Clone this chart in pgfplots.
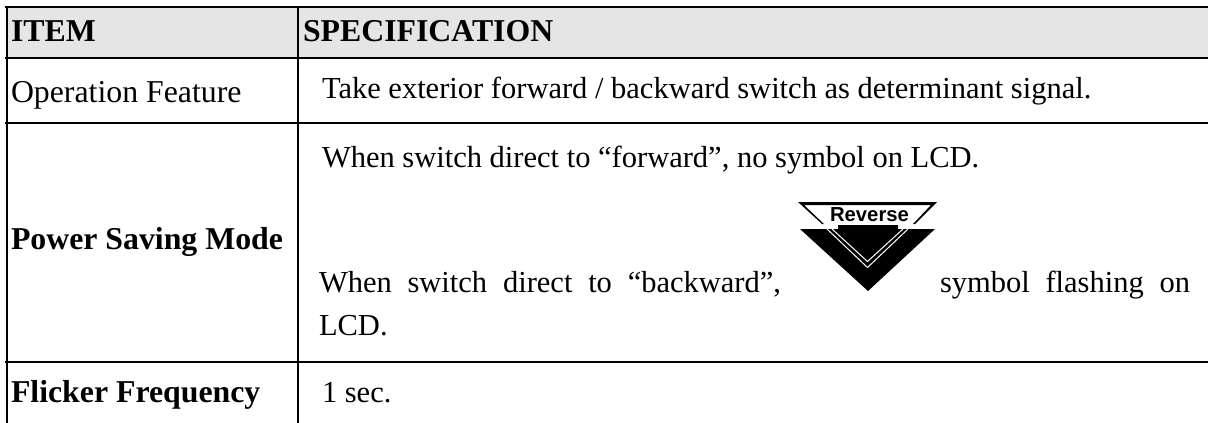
\documentclass[border=0pt]{standalone}
\usepackage{fontspec}
\setmainfont{Liberation Serif}
\newfontfamily\sansb{Liberation Sans}[Scale=1]
\usepackage{pgfplots}
\pgfplotsset{compat=1.18}
\newcommand{\tx}{\fontsize{30.5}{33}\selectfont}
\newcommand{\ty}{\fontsize{31.8}{34}\selectfont}
\tikzset{T/.style={inner sep=0pt, outer sep=0pt, anchor=base west}}
\begin{document}
\begin{tikzpicture}
\begin{axis}[
  scale only axis, width=1208pt, height=423pt,
  xmin=0, xmax=1208, ymin=0, ymax=423, y dir=reverse,
  hide axis, clip=true,
]
% header band
\addplot[fill=black!10, draw=none] coordinates {(7,7) (1208,7) (1208,58) (7,58)} --cycle;
% horizontal rules
\addplot[black, line width=2.2pt] coordinates {(5,7) (1208,7)};
\addplot[black, line width=2.2pt] coordinates {(5,58) (1208,58)};
\addplot[black, line width=2.2pt] coordinates {(5,123) (1208,123)};
\addplot[black, line width=2.2pt] coordinates {(5,362) (1208,362)};
% vertical rules
\addplot[black, line width=2.2pt] coordinates {(7,6) (7,423)};
\addplot[black, line width=2.2pt] coordinates {(298,6) (298,423)};
% Reverse icon: frame
\addplot[fill=black, draw=none] coordinates {(798,202) (937,202) (915,224) (913,224) (931,205) (804,205) (824,224) (822,224)} --cycle;
% Reverse icon: triangle and block
\addplot[fill=black, draw=none] coordinates {(800,229) (838,229) (838,225) (898,225) (898,229) (935,229) (868,291)} --cycle;
% white chevrons
\addplot[white, line width=1pt] coordinates {(827,229) (867.5,267.5) (908,229)};
\addplot[white, line width=1pt] coordinates {(832,229) (867.5,261.5) (903,229)};
% text
\node[T] at (axis cs:11,41) {\ty\bfseries ITEM};
\node[T] at (axis cs:303,41) {\ty\bfseries SPECIFICATION};
\node[T] at (axis cs:11,102) {\ty Operation Feature};
\node[T] at (axis cs:322,98) {\tx Take exterior forward / backward switch as determinant signal.};
\node[T] at (axis cs:322,167) {\tx When switch direct to ``forward'', no symbol on LCD.};
\node[T] at (axis cs:11,249) {\ty\bfseries Power Saving Mode};
\node[T] at (axis cs:319,292) {\tx\makebox[462pt][s]{When switch direct to ``backward'',}};
\node[T] at (axis cs:940,292) {\tx\makebox[250pt][s]{symbol flashing on}};
\node[T] at (axis cs:319,335) {\tx LCD.};
\node[T] at (axis cs:11,402) {\ty\bfseries Flicker Frequency};
\node[T] at (axis cs:322,402) {\tx 1 sec.};
\node[T] at (axis cs:830,221) {\sansb\bfseries\fontsize{20.3}{21}\selectfont Reverse};
\path (rel axis cs:0,0) (rel axis cs:1,1);
\end{axis}
\end{tikzpicture}
\end{document}
